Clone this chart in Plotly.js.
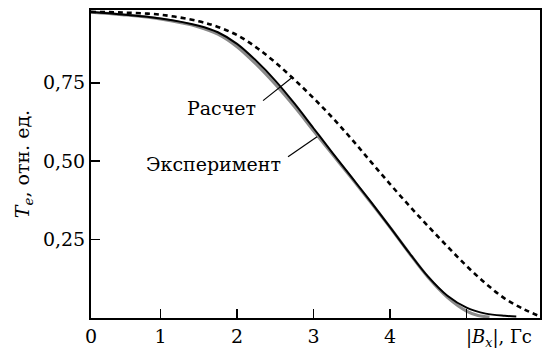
<!DOCTYPE html>
<html>
<head>
<meta charset="utf-8">
<script src="https://cdn.plot.ly/plotly-3.0.1.min.js"></script>
<style>html,body{margin:0;padding:0;background:#fff}#chart{width:547px;height:349px}</style>
</head>
<body>
<div id="chart"></div>
<script>
// Experiment (black solid)
var expB = [0.09, 0.5, 1.0, 1.5, 1.75, 2.0, 2.25, 2.5, 2.75, 3.0, 3.25, 3.5, 3.75, 4.0, 4.25, 4.5, 4.75, 5.0, 5.25, 5.5, 5.65];
var expT = [0.976, 0.968, 0.955, 0.932, 0.911, 0.874, 0.820, 0.757, 0.684, 0.605, 0.526, 0.448, 0.370, 0.290, 0.208, 0.131, 0.071, 0.033, 0.014, 0.007, 0.005];
// Calculation (grey solid)
var calcB = [0.09, 0.5, 1.0, 1.5, 1.75, 2.0, 2.25, 2.5, 2.75, 3.0, 3.25, 3.5, 3.75, 4.0, 4.25, 4.5, 4.75, 5.0, 5.15, 5.3];
var calcT = [0.975, 0.967, 0.953, 0.928, 0.905, 0.865, 0.809, 0.745, 0.674, 0.597, 0.521, 0.445, 0.368, 0.289, 0.207, 0.129, 0.066, 0.022, 0.008, 0.003];
// Dashed curve
var dashB = [0.09, 0.5, 1.0, 1.5, 1.75, 2.0, 2.25, 2.5, 2.75, 3.0, 3.25, 3.5, 3.75, 4.0, 4.25, 4.5, 4.75, 5.0, 5.25, 5.5, 5.75, 5.96];
var dashT = [0.976, 0.974, 0.967, 0.946, 0.928, 0.902, 0.863, 0.815, 0.760, 0.701, 0.638, 0.570, 0.498, 0.427, 0.358, 0.292, 0.228, 0.166, 0.110, 0.062, 0.028, 0.005];

var xTickVals = [0.0915, 1, 2, 3, 4, 5];
var xTickText = ["0", "1", "2", "3", "4", ""];
var yTickVals = [0.25, 0.5, 0.75];
var yTickText = ["0,25", "0,50", "0,75"];

var F = "DejaVu Serif, serif";

var traces = [
  {x: calcB, y: calcT, mode: "lines", line: {color: "#8a8a8a", width: 3, shape: "spline", smoothing: 1}, hoverinfo: "skip"},
  {x: expB, y: expT, mode: "lines", line: {color: "#000", width: 2, shape: "spline", smoothing: 1}, hoverinfo: "skip"},
  {x: dashB, y: dashT, mode: "lines", line: {color: "#000", width: 2.6, dash: "5px,4px", shape: "spline", smoothing: 1}, hoverinfo: "skip"}
];

var layout = {
  width: 547, height: 349,
  margin: {l: 91, r: 7, t: 10, b: 31},
  paper_bgcolor: "#fff", plot_bgcolor: "#fff",
  showlegend: false,
  font: {family: F, size: 19, color: "#000"},
  xaxis: {
    range: [0.0915, 5.96], tickvals: xTickVals, ticktext: xTickText,
    ticks: "inside", ticklen: 9, tickwidth: 1.5, tickcolor: "#000",
    showline: true, linewidth: 2, linecolor: "#000", mirror: true,
    showgrid: false, zeroline: false, tickfont: {family: F, size: 19}
  },
  yaxis: {
    range: [0, 0.982], tickvals: yTickVals, ticktext: yTickText,
    ticks: "inside", ticklen: 9, tickwidth: 1.5, tickcolor: "#000",
    showline: true, linewidth: 2, linecolor: "#000", mirror: true,
    showgrid: false, zeroline: false, tickfont: {family: F, size: 19},
    title: {text: "<i>T</i><sub><i>e</i></sub>, отн. ед.", font: {family: F, size: 19}, standoff: 8}
  },
  annotations: [
    {x: 2.275, y: 0.670, xref: "x", yref: "y", text: "Расчет", showarrow: false, xanchor: "right", yanchor: "middle", font: {family: F, size: 19}},
    {x: 2.601, y: 0.492, xref: "x", yref: "y", text: "Эксперимент", showarrow: false, xanchor: "right", yanchor: "middle", font: {family: F, size: 19}},
    {x: 4.97, y: 0, xref: "x", yref: "y", yshift: -6, text: "|<i>B</i><sub><i>x</i></sub>|, Гс", showarrow: false, xanchor: "left", yanchor: "top", font: {family: F, size: 18}}
  ],
  shapes: [
    {type: "line", xref: "x", yref: "y", x0: 2.34, y0: 0.693, x1: 2.732, y1: 0.769, line: {color: "#000", width: 1.2}},
    {type: "line", xref: "x", yref: "y", x0: 2.667, y0: 0.514, x1: 3.046, y1: 0.578, line: {color: "#000", width: 1.2}}
  ]
};

Plotly.newPlot("chart", traces, layout, {displayModeBar: false, staticPlot: true});
</script>
</body>
</html>
